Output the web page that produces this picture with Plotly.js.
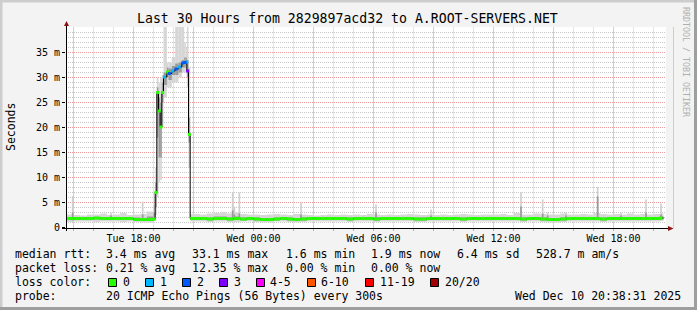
<!DOCTYPE html>
<html><head><meta charset="utf-8">
<script src="https://cdn.plot.ly/plotly-3.0.1.min.js"></script>
<style>html,body{margin:0;padding:0;background:#f3f3f3;}#chart{width:697px;height:310px;}</style>
</head><body><div id="chart"></div>
<script>
// ---------- DATA ----------
const title_text = "Last 30 Hours from 2829897acd32 to A.ROOT-SERVERS.NET";
const x_range = ["2025-12-09 14:37:30", "2025-12-10 20:37:30"];
const y_range = [-0.1, 40.1];
const x_tickvals = ["2025-12-09 18:00","2025-12-10 00:00","2025-12-10 06:00","2025-12-10 12:00","2025-12-10 18:00"];
const x_ticktext = ["Tue 18:00","Wed 00:00","Wed 06:00","Wed 12:00","Wed 18:00"];
const y_tickvals = [0,5,10,15,20,25,30,35];
const y_ticktext = ["0","5 m","10 m","15 m","20 m","25 m","30 m","35 m"];
const end_time = "12-10 20:30";

const med_time = [
"12-09 14:35","12-09 15:00","12-09 15:20","12-09 15:40","12-09 16:00","12-09 16:20","12-09 16:40","12-09 17:00","12-09 17:20","12-09 17:40","12-09 18:00","12-09 18:20","12-09 18:40","12-09 19:00",
"12-09 19:05","12-09 19:10","12-09 19:15","12-09 19:20","12-09 19:25","12-09 19:30","12-09 19:40","12-09 19:45","12-09 19:55","12-09 20:05","12-09 20:15","12-09 20:25","12-09 20:32","12-09 20:37","12-09 20:40","12-09 20:45",
"12-09 20:50","12-09 21:20","12-09 21:40","12-09 22:00","12-09 22:20","12-09 22:40","12-09 23:00","12-09 23:20","12-09 23:40",
"12-10 00:00","12-10 00:20","12-10 00:40","12-10 01:00","12-10 01:20","12-10 01:40","12-10 02:00","12-10 02:20","12-10 02:40","12-10 03:00","12-10 03:20","12-10 03:40",
"12-10 04:00","12-10 04:20","12-10 04:40","12-10 05:00","12-10 05:20","12-10 05:40","12-10 06:00","12-10 06:20","12-10 06:40","12-10 07:00","12-10 07:20","12-10 07:40",
"12-10 08:00","12-10 08:20","12-10 08:40","12-10 09:00","12-10 09:20","12-10 09:40","12-10 10:00","12-10 10:20","12-10 10:40","12-10 11:00","12-10 11:20","12-10 11:40",
"12-10 12:00","12-10 12:20","12-10 12:40","12-10 13:00","12-10 13:20","12-10 13:40","12-10 14:00","12-10 14:20","12-10 14:40","12-10 15:00","12-10 15:20","12-10 15:40",
"12-10 16:00","12-10 16:20","12-10 16:40","12-10 17:00","12-10 17:20","12-10 17:40","12-10 18:00","12-10 18:20","12-10 18:40","12-10 19:00","12-10 19:20","12-10 19:40",
"12-10 20:00","12-10 20:20"];

// median rtt (ms)
const med_ms = [
1.8,1.8,1.8,1.8,1.9,1.8,1.8,1.8,1.8,1.8,1.6,1.6,1.6,1.7,
7.0,27.0,23.3,20.1,27.0,30.1,31.1,30.8,31.3,31.7,32.1,32.9,33.0,33.1,31.3,18.6,
1.8,1.8,1.7,1.8,1.8,1.7,1.8,1.7,1.8,
1.7,1.6,1.6,1.7,1.8,1.7,1.6,1.7,1.8,1.8,1.8,1.8,
1.8,1.8,1.7,1.8,1.8,1.8,1.7,1.8,1.8,1.8,1.8,1.8,
1.7,1.7,1.8,1.8,1.8,1.8,1.8,1.7,1.8,1.8,1.8,1.8,
1.8,1.8,1.8,1.8,1.7,1.8,1.8,1.7,1.6,1.6,1.7,1.8,
1.8,1.8,1.8,1.8,1.7,1.8,1.8,1.8,1.8,1.8,1.8,1.8,
1.8,1.9];

// lost pings out of 20
const loss = [
0,0,0,0,0,0,0,0,0,0,0,0,0,0,
0,0,0,0,0,1,0,2,1,2,1,2,2,1,3,0,
0,0,0,0,0,0,0,0,0,
0,0,0,0,0,0,0,0,0,0,0,0,
0,0,0,0,0,0,0,0,0,0,0,0,
0,0,0,0,0,0,0,0,0,0,0,0,
0,0,0,0,0,0,0,0,0,0,0,0,
0,0,0,0,0,0,0,0,0,0,0,0,
0,0];

// smoke: outer (all pings) and inner (middle pings) ranges, ms
const smoke_lo = [
1.1,1.2,1.2,1.2,1.1,1.2,1.2,1.2,1.1,1.2,1.1,1.0,1.0,1.3,
2.5,6.0,9.0,9.5,20.0,26.0,28.0,28.0,29.0,29.0,30.0,31.0,31.0,31.0,28.0,12.0,
1.2,1.2,1.1,1.2,1.2,1.1,1.1,1.2,1.2,
1.1,1.0,1.0,1.2,1.2,1.1,1.0,1.1,1.2,1.2,1.2,1.2,
1.2,1.2,1.1,1.2,1.2,1.2,1.1,1.2,1.2,1.2,1.2,1.2,
1.1,1.1,1.2,1.2,1.2,1.2,1.2,1.1,1.2,1.2,1.2,1.2,
1.2,1.2,1.2,1.2,1.1,1.2,1.2,1.1,1.0,1.0,1.1,1.2,
1.2,1.2,1.2,1.2,1.1,1.2,1.2,1.2,1.2,1.2,1.2,1.2,
1.2,1.3];
const smoke_hi = [
2.6,2.5,2.4,2.6,2.6,2.8,2.5,2.6,2.9,2.5,2.6,2.7,3.2,4.5,
12.0,30.0,29.0,30.0,30.5,45.0,33.0,33.0,34.0,45.0,45.0,45.0,37.0,36.0,45.0,32.0,
2.7,2.6,2.8,2.9,3.1,2.8,3.0,2.7,2.6,
2.6,2.5,2.6,2.7,2.6,2.5,2.7,2.6,2.5,2.4,2.5,2.6,
2.5,2.6,2.5,2.6,2.5,2.7,2.6,2.5,2.6,2.5,2.6,2.7,
2.6,2.5,2.6,2.5,2.6,2.5,2.6,2.7,2.6,2.5,2.6,2.6,
2.6,2.7,2.5,2.9,2.6,2.6,2.8,2.7,2.6,2.6,2.8,2.6,
2.6,2.7,2.6,2.9,2.7,2.6,2.7,2.6,2.8,2.6,2.7,2.6,
2.7,2.8];
const core_lo = [
1.5,1.5,1.5,1.5,1.6,1.5,1.5,1.6,1.5,1.5,1.4,1.3,1.3,1.5,
4.0,18.0,14.0,14.0,25.0,28.5,30.0,29.5,30.5,30.5,31.0,32.0,32.0,32.5,30.0,17.0,
1.5,1.5,1.4,1.5,1.5,1.4,1.5,1.4,1.5,
1.4,1.3,1.3,1.4,1.5,1.4,1.3,1.4,1.5,1.5,1.5,1.5,
1.5,1.5,1.4,1.5,1.5,1.5,1.4,1.5,1.5,1.5,1.5,1.5,
1.4,1.4,1.5,1.5,1.5,1.5,1.5,1.4,1.5,1.5,1.5,1.5,
1.5,1.5,1.5,1.5,1.4,1.5,1.5,1.4,1.3,1.3,1.4,1.5,
1.5,1.5,1.5,1.5,1.4,1.5,1.5,1.5,1.5,1.5,1.5,1.5,
1.5,1.6];
const core_hi = [
2.0,2.0,2.0,2.1,2.1,2.1,2.0,2.1,2.1,2.0,2.0,1.9,2.2,3.0,
9.0,28.0,26.0,25.0,29.0,31.0,32.0,31.8,32.3,32.8,33.0,33.5,34.0,34.0,33.5,22.0,
2.1,2.1,2.0,2.2,2.2,2.0,2.2,2.0,2.1,
2.0,1.9,1.9,2.0,2.1,2.0,1.9,2.0,2.1,2.0,2.1,2.1,
2.0,2.1,2.0,2.1,2.0,2.1,2.0,2.1,2.1,2.0,2.1,2.1,
2.0,2.0,2.1,2.0,2.1,2.0,2.1,2.0,2.1,2.0,2.1,2.1,
2.1,2.1,2.0,2.1,2.0,2.1,2.1,2.0,1.9,1.9,2.0,2.1,
2.1,2.0,2.1,2.1,2.0,2.1,2.1,2.1,2.0,2.1,2.1,2.1,
2.1,2.2];

// isolated smoke spikes
const spike_time = ["12-09 14:55","12-09 16:50","12-09 18:25","12-09 22:55","12-09 23:00","12-09 23:15","12-10 02:20","12-10 06:05","12-10 08:50","12-10 13:20","12-10 14:25","12-10 14:40","12-10 15:35","12-10 17:10","12-10 18:20","12-10 19:35","12-10 20:20"];
const spike_lo  = [1.4,1.5,1.4,1.5,1.5,1.5,1.5,1.5,1.5,1.5,1.5,1.4,1.5,1.6,1.5,1.5,1.5];
const spike_mid = [3.0,2.4,2.6,3.4,2.6,2.8,2.6,3.0,2.4,4.2,2.8,2.4,2.4,6.2,2.4,3.0,2.6];
const spike_hi  = [6.3,3.0,5.2,7.0,4.2,7.0,5.0,4.6,3.6,7.0,5.6,3.0,3.0,8.1,3.0,5.6,4.8];
const spike_step_ms = 300000;

const loss_labels = ["0","1","2","3","4-5","6-10","11-19","20/20"];
const loss_colors = ["#26ff00","#00b8ff","#0059ff","#7e00ff","#ff00ff","#ff5500","#ff0000","#a10000"];
const stats_rtt  = ["3.4 ms avg","33.1 ms max","1.6 ms min","1.9 ms now","6.4 ms sd","528.7 m am/s"];
const stats_loss = ["0.21 % avg","12.35 % max","0.00 % min","0.00 % now"];
const probe_text = "20 ICMP Echo Pings (56 Bytes) every 300s";
const stamp_text = "Wed Dec 10 20:38:31 2025";

// ---------- BUILD ----------
const full = s => "2025-" + s;
const ms = s => Date.parse(full(s).replace(" ", "T") + ":00Z");
const fmt = m => new Date(m).toISOString().slice(0, 19).replace("T", " ");
const T = med_time.map(full);
const nextT = med_time.map((s, i) => i + 1 < med_time.length ? med_time[i + 1] : end_time);
const widths = med_time.map((s, i) => ms(nextT[i]) - ms(s));

function bucket(l){ if(l<=0) return 0; if(l===1) return 1; if(l===2) return 2; if(l===3) return 3; if(l<=5) return 4; if(l<=10) return 5; if(l<=19) return 6; return 7; }

const D = {xaxis:'x3', yaxis:'y3', hoverinfo:'skip'};
const traces = [];
traces.push({type:'scatter', x:[], y:[], xaxis:'x', yaxis:'y', hoverinfo:'skip'});
traces.push({type:'scatter', x:[], y:[], xaxis:'x2', yaxis:'y2', hoverinfo:'skip'});
traces.push(Object.assign({type:'bar', x:T, base:smoke_lo, y:smoke_hi.map((h,i)=>h-smoke_lo[i]), width:widths, offset:0,
  marker:{color:'#d6d6d6', line:{width:0}}}, D));
traces.push(Object.assign({type:'bar', x:spike_time.map(full), base:spike_lo, y:spike_hi.map((h,i)=>h-spike_lo[i]), width:spike_time.map(()=>spike_step_ms), offset:0,
  marker:{color:'#cfcfcf', line:{width:0}}}, D));
traces.push(Object.assign({type:'bar', x:T, base:core_lo, y:core_hi.map((h,i)=>h-core_lo[i]), width:widths, offset:0,
  marker:{color:'#9c9c9c', line:{width:0}}}, D));
traces.push(Object.assign({type:'bar', x:spike_time.map(full), base:spike_lo, y:spike_mid.map((h,i)=>h-spike_lo[i]), width:spike_time.map(()=>spike_step_ms), offset:0,
  marker:{color:'#9a9a9a', line:{width:0}}}, D));
traces.push(Object.assign({type:'scatter', mode:'lines', x:T.concat([full(end_time)]), y:med_ms.concat([med_ms[med_ms.length-1]]),
  line:{color:'#000', width:1, shape:'hv'}}, D));
const LONG = 15 * 60000;
loss_colors.forEach((c, b) => {
  const lx = [], ly = [], mx = [], my = [];
  med_time.forEach((s, i) => {
    if (bucket(loss[i]) !== b) return;
    if (widths[i] >= LONG) { lx.push(full(s), full(nextT[i]), null); ly.push(med_ms[i], med_ms[i], null); }
    else { mx.push(fmt(ms(s) + 150000)); my.push(med_ms[i]); }
  });
  if (lx.length) traces.push(Object.assign({type:'scatter', mode:'lines', x:lx, y:ly, connectgaps:false, line:{color:c, width:3}}, D));
  if (mx.length) traces.push(Object.assign({type:'scatter', mode:'markers', x:mx, y:my, marker:{color:c, size:3, symbol:'square', line:{width:0}}}, D));
});

// ---------- LAYOUT helpers (pixel -> paper) ----------
const X0 = 66, PW = 600, Y0 = 228, PH = 201;
const px = x => (x - X0) / PW, py = y => (Y0 - y) / PH;
const MONO = 'DejaVu Sans Mono';
const ann = [];
function txt(x, y, t, o) { ann.push(Object.assign({xref:'paper', yref:'paper', x:px(x), y:py(y), text:t, showarrow:false,
  xanchor:'left', yanchor:'middle', borderpad:0, borderwidth:0, font:{family:MONO, size:11.5, color:'#000'}}, o||{})); }

txt(347.5, 18.5, title_text, {xanchor:'center', font:{family:MONO, size:13.2, color:'#000'}});
txt(10.5, 127.5, 'Seconds', {xanchor:'center', textangle:-90});
txt(686.5, 61.5, 'RRDTOOL / TOBI OETIKER', {xanchor:'center', textangle:90, font:{family:MONO, size:8.3, color:'#b0b0b0'}});

const L1 = 254.3, L2 = 268.3, L3 = 282.3, L4 = 296.3;
txt(15.3, L1, 'median rtt:');
[107, 193, 287, 372, 458, 537].forEach((x, i) => txt(x - 0.7, L1, stats_rtt[i]));
txt(15.3, L2, 'packet loss:');
[107, 193, 287, 372].forEach((x, i) => txt(x - 0.7, L2, stats_loss[i]));
txt(15.3, L3, 'loss color:');
const boxX = [108.5, 145.5, 182.5, 219.5, 256.5, 307.5, 365.5, 430.5];
const labX = [123.3, 161, 197.3, 234.3, 270.7, 321.7, 380.7, 445.7];
labX.forEach((x, i) => txt(x - 0.7, L3, loss_labels[i]));
txt(15.3, L4, 'probe:');
txt(106.3, L4, probe_text);
txt(680.5, L4, stamp_text, {xanchor:'right'});

// grid positions: hourly (gray) and 3-hourly (red) on x; 1 m (gray) and 5 m (red) on y
const hourGray = [], hourRed = [];
for (let h = 0; h <= 30; h++) {
  const m = Date.UTC(2025, 11, 9, 15) + h * 3600000;
  (new Date(m).getUTCHours() % 3 === 0 ? hourRed : hourGray).push(fmt(m));
}
const msGray = [];
for (let v = 1; v <= 40; v++) if (v % 5 !== 0 || v === 40) msGray.push(v);

const shapes = [];
// red 3-hour vertical grid lines, solid light tint, placed in paper space at each time's axis position
const xStart = Date.parse(x_range[0].replace(" ", "T") + "Z"), xEnd = Date.parse(x_range[1].replace(" ", "T") + "Z");
hourRed.forEach(t => {
  const f = (Date.parse(t.replace(" ", "T") + "Z") - xStart) / (xEnd - xStart);
  shapes.push({type:'line', xref:'paper', yref:'paper', x0:f, x1:f, y0:0, y1:1, line:{color:'#f2c0c0', width:1}, layer:'between'});
});
const rectPx = (x0, y0, x1, y1, fill, line) => shapes.push({type:'rect', xref:'paper', yref:'paper', x0:px(x0), x1:px(x1), y0:py(y1), y1:py(y0),
  fillcolor:fill, line: line || {width:0}, layer:'above'});
boxX.forEach((x, i) => rectPx(x, 278.5, x + 8, 286.5, loss_colors[i], {color:'#000', width:1}));
rectPx(0, 0, 697, 2.5, '#cdcdcd'); rectPx(0, 0, 2.5, 310, '#cdcdcd');
rectPx(694, 0, 697, 310, '#9e9e9e'); rectPx(0, 307, 697, 310, '#9e9e9e');
shapes.push({type:'line', xref:'paper', yref:'paper', x0:px(66.5), x1:px(66.5), y0:py(231), y1:py(24), line:{color:'#000', width:1}});
shapes.push({type:'line', xref:'paper', yref:'paper', x0:px(62), x1:px(669), y0:py(228.5), y1:py(228.5), line:{color:'#000', width:1}});
const P = (x, y) => px(x) + ',' + py(y);
shapes.push({type:'path', xref:'paper', yref:'paper', path:'M' + P(64, 26) + ' L' + P(66.5, 21) + ' L' + P(69, 26) + ' Z', fillcolor:'#8e1111', line:{width:0}});
shapes.push({type:'path', xref:'paper', yref:'paper', path:'M' + P(668, 226) + ' L' + P(673.5, 228.5) + ' L' + P(668, 231) + ' Z', fillcolor:'#8e1111', line:{width:0}});

const tickfont = {family:MONO, size:10, color:'#000'};
const gridAxisX = (color, vals) => ({type:'date', range:x_range, tickmode:'array', tickvals:vals,
  showticklabels:false, ticks:'outside', ticklen:2, tickcolor:'#e89a9a', showgrid:true, gridcolor:color, griddash:'solid', gridwidth:1,
  showline:false, zeroline:false, fixedrange:true});
const gridAxisY = (color, vals) => ({range:y_range, tickmode:'array', tickvals:vals, showticklabels:false, ticks:'',
  showgrid:true, gridcolor:color, griddash:'1px,1px', gridwidth:1, showline:false, zeroline:false, fixedrange:true});
const layout = {
  width:697, height:310, margin:{l:X0, r:697 - X0 - PW, t:27, b:310 - Y0, pad:0},
  paper_bgcolor:'#f3f3f3', plot_bgcolor:'#ffffff', showlegend:false, hovermode:false, barmode:'overlay',
  xaxis: gridAxisX('#e4e4e4', hourGray),
  yaxis: gridAxisY('#c8c8c8', msGray),
  xaxis2: Object.assign(gridAxisX('#f2c0c0', hourRed), {overlaying:'x', anchor:'y2'}),
  yaxis2: Object.assign(gridAxisY('#eb9b9b', y_tickvals), {overlaying:'y', anchor:'x2'}),
  xaxis3:{type:'date', range:x_range, overlaying:'x', anchor:'y3', tickmode:'array', tickvals:x_tickvals, ticktext:x_ticktext,
    ticks:'', showgrid:false, showline:false, zeroline:false, tickfont:tickfont, ticklabelstandoff:3, fixedrange:true},
  yaxis3:{range:y_range, overlaying:'y', anchor:'x3', tickmode:'array', tickvals:y_tickvals, ticktext:y_ticktext, ticks:'outside', ticklen:3, tickcolor:'#000',
    showgrid:false, showline:false, zeroline:false, tickfont:tickfont, fixedrange:true},
  annotations:ann, shapes:shapes
};
Plotly.newPlot('chart', traces, layout, {staticPlot:true, displayModeBar:false});
</script></body></html>
